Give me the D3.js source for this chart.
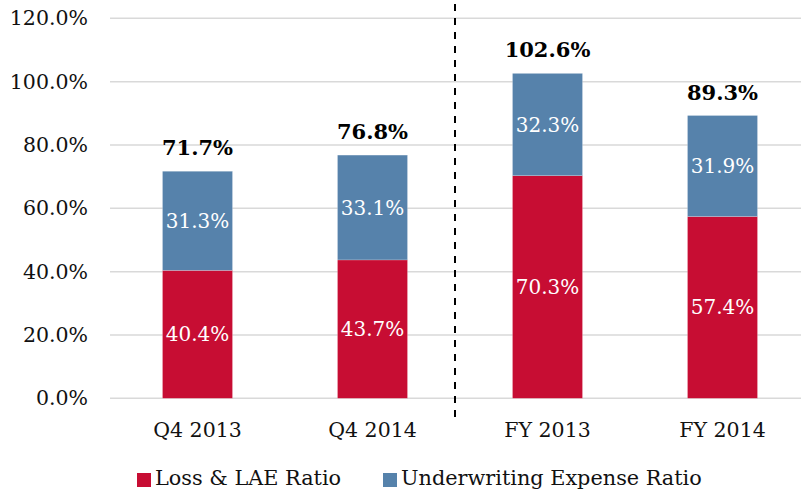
<!DOCTYPE html>
<html><head><meta charset="utf-8">
<script src="https://cdn.jsdelivr.net/npm/d3@7"></script>
<style>html,body{margin:0;padding:0;background:#fff;} svg{display:block;}</style>
</head><body>
<svg id="chart" width="801" height="490"></svg>
<script>
const categories = ["Q4 2013", "Q4 2014", "FY 2013", "FY 2014"];
const lossRatio = [40.4, 43.7, 70.3, 57.4];
const expenseRatio = [31.3, 33.1, 32.3, 31.9];
const totals = [71.7, 76.8, 102.6, 89.3];
const yTicks = [0, 20, 40, 60, 80, 100, 120];
const seriesNames = ["Loss & LAE Ratio", "Underwriting Expense Ratio"];
const colors = ["#C70D33", "#5682AB"];

const svg = d3.select("#chart");
const font = "'DejaVu Serif', Georgia, serif";
const x = d3.scaleBand().domain(categories).range([110, 810]).paddingInner(0.6).paddingOuter(0.3);
const y = d3.scaleLinear().domain([0, 120]).range([398.3, 18.3]);

// gridlines
svg.append("g").selectAll("line").data(yTicks).join("line")
  .attr("x1", 110).attr("x2", 801)
  .attr("y1", d => y(d)).attr("y2", d => y(d))
  .attr("stroke", "#d9d9d9").attr("stroke-width", 1.5);

// y axis labels
const yAxis = d3.axisLeft(y).tickValues(yTicks).tickFormat(d => d.toFixed(1) + "%").tickSize(0).tickPadding(0);
const ga = svg.append("g").attr("transform", "translate(88,0)").call(yAxis);
ga.select(".domain").remove();
ga.selectAll("text").attr("font-family", font).attr("font-size", 20.5).attr("fill", "#111");

// stacked bars
const stackData = categories.map((c, i) => ({cat: c, loss: lossRatio[i], exp: expenseRatio[i]}));
const stack = d3.stack().keys(["loss", "exp"])(stackData);
const layers = svg.append("g").selectAll("g").data(stack).join("g").attr("fill", (d, i) => colors[i]);
layers.selectAll("rect").data(d => d).join("rect")
  .attr("x", d => x(d.data.cat)).attr("width", x.bandwidth())
  .attr("y", d => y(d[1])).attr("height", d => y(d[0]) - y(d[1]))
  .attr("stroke", "#fff").attr("stroke-opacity", 0.4).attr("stroke-width", 0.5);

// segment labels
layers.selectAll("text").data(d => d.map(s => ({s, key: d.key}))).join("text")
  .attr("x", d => x(d.s.data.cat) + x.bandwidth() / 2)
  .attr("y", d => (y(d.s[0]) + y(d.s[1])) / 2)
  .attr("dy", "0.35em").attr("text-anchor", "middle")
  .attr("font-family", font).attr("font-size", 20).attr("fill", "#fff")
  .text(d => d.s.data[d.key].toFixed(1) + "%");

// totals
svg.append("g").selectAll("text").data(categories).join("text")
  .attr("x", d => x(d) + x.bandwidth() / 2)
  .attr("y", (d, i) => y(totals[i]) - 16)
  .attr("text-anchor", "middle").attr("font-family", font).attr("font-size", 21)
  .attr("font-weight", "bold").attr("fill", "#000")
  .text((d, i) => totals[i].toFixed(1) + "%");

// x axis labels
const xAxis = d3.axisBottom(x).tickSize(0).tickPadding(0);
const gx = svg.append("g").attr("transform", "translate(0,423)").call(xAxis);
gx.select(".domain").remove();
gx.selectAll("text").attr("font-family", font).attr("font-size", 20.5).attr("fill", "#111").attr("dy", "0.7em");

// dashed separator
svg.append("line").attr("x1", 455).attr("x2", 455).attr("y1", 4).attr("y2", 418)
  .attr("stroke", "#000").attr("stroke-width", 2).attr("stroke-dasharray", "7,7");

// legend
const legX = [137, 383];
const leg = svg.append("g").selectAll("g").data(seriesNames).join("g")
  .attr("transform", (d, i) => `translate(${legX[i]},473)`);
leg.append("rect").attr("width", 14).attr("height", 14).attr("fill", (d, i) => colors[i]);
leg.append("text").attr("x", 18).attr("y", 12).attr("font-family", font).attr("font-size", 20.8)
  .attr("fill", "#111").text(d => d);
</script>
</body></html>
